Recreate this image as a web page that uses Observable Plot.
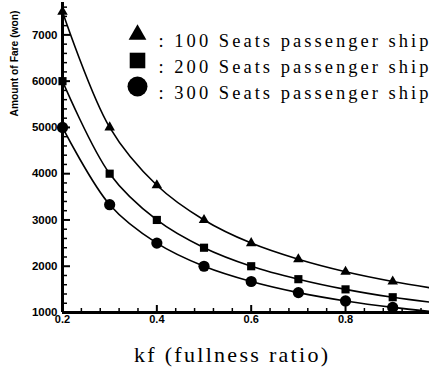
<!DOCTYPE html>
<html>
<head>
<meta charset="utf-8">
<script src="https://cdn.jsdelivr.net/npm/d3@7"></script>
<script src="https://cdn.jsdelivr.net/npm/@observablehq/plot@0.6"></script>
<style>
  html, body { margin: 0; padding: 0; background: #fff; }
  #wrap { position: relative; width: 429px; height: 374px; }
  #clip { width: 429px; height: 328px; overflow: hidden; }
  #cap { position: absolute; left: 0; top: 336px; width: 429px; height: 36px; }
</style>
</head>
<body>
<div id="wrap">
  <div id="clip"></div>
  <svg id="cap" width="429" height="36"></svg>
</div>
<script>
const kf = [0.2, 0.3, 0.4, 0.5, 0.6, 0.7, 0.8, 0.9, 1.0];
const seats100 = [7500, 5000, 3750, 3000, 2500, 2150, 1880, 1670, 1500];
const seats200 = [6000, 4000, 3000, 2400, 2000, 1720, 1500, 1330, 1200];
const seats300 = [5000, 3330, 2500, 2000, 1670, 1430, 1250, 1110, 1000];
const seriesNames = ["100", "200", "300"];
const legendLabels = [": 100 Seats passenger ship", ": 200 Seats passenger ship", ": 300 Seats passenger ship"];
const xMajor = [0.2, 0.4, 0.6, 0.8];
const xMinor = [0.24, 0.28, 0.32, 0.36, 0.44, 0.48, 0.52, 0.56, 0.64, 0.68, 0.72, 0.76, 0.84, 0.88, 0.92, 0.96];
const yMajor = [1000, 2000, 3000, 4000, 5000, 6000, 7000];
const yMinor = [1200, 1400, 1600, 1800, 2200, 2400, 2600, 2800, 3200, 3400, 3600, 3800, 4200, 4400, 4600, 4800, 5200, 5400, 5600, 5800, 6200, 6400, 6600, 6800, 7200, 7400, 7600];
const yTitle = "Amount of Fare (won)";
const xTitle = "kf (fullness ratio)";

const allSeries = [seats100, seats200, seats300];
const rows = [];
allSeries.forEach((vals, i) => vals.forEach((v, j) => rows.push({kf: kf[j], fare: v, series: seriesNames[i]})));
const pts = s => rows.filter(d => d.series === s && d.kf <= 0.9);

const legendRows = seriesNames.map((s, i) => ({series: s, label: legendLabels[i]}));
const serif = "Liberation Serif, Times New Roman, serif";
const sans = "Liberation Sans, Arial, sans-serif";

const chart = Plot.plot({
  width: 429,
  height: 328,
  marginLeft: 62,
  marginRight: 0,
  marginTop: 2,
  marginBottom: 16,
  style: {background: "#fff", color: "#000", overflow: "visible"},
  x: {domain: [0.2, 0.978], axis: null},
  y: {domain: [1000, 7700], axis: null},
  marks: [
    Plot.line(rows, {x: "kf", y: "fare", z: "series", curve: "catmull-rom", stroke: "#000", strokeWidth: 1.6, clip: true}),
    Plot.dot(pts("100"), {x: "kf", y: "fare", symbol: "triangle", r: 3.9, fill: "#000"}),
    Plot.dot(pts("200"), {x: "kf", y: "fare", symbol: "square", r: 4.6, fill: "#000"}),
    Plot.dot(pts("300"), {x: "kf", y: "fare", symbol: "circle", r: 5.6, fill: "#000"}),
    Plot.axisX(xMajor, {tickSize: -7, tickFormat: () => "", label: null, strokeWidth: 2}),
    Plot.axisX(xMinor, {tickSize: -4, tickFormat: () => "", label: null, strokeWidth: 1.5}),
    Plot.axisX(xMajor, {tickSize: 0, tickPadding: 3, label: null, tickFormat: d => d.toFixed(1), fontSize: 11, fontWeight: "bold", fontFamily: sans}),
    Plot.axisY(yMajor, {tickSize: -8, tickFormat: () => "", label: null, strokeWidth: 2}),
    Plot.axisY(yMinor, {tickSize: -5, tickFormat: () => "", label: null, strokeWidth: 1.5}),
    Plot.axisY(yMajor, {tickSize: 0, tickPadding: 5, label: null, tickFormat: d => String(d), fontSize: 11.5, fontWeight: "bold", fontFamily: sans}),
    Plot.ruleX([0.2], {stroke: "#000", strokeWidth: 3}),
    Plot.ruleY([1000], {stroke: "#000", strokeWidth: 3}),
    Plot.text([yTitle], {frameAnchor: "top-left", dx: -52, dy: 61, text: d => d, rotate: -90, textAnchor: "middle", fontSize: 10, fontWeight: "bold", fontFamily: "Liberation Sans Narrow, Liberation Sans, Arial, sans-serif", className: "ytitle"}),
    Plot.dot([legendRows[0]], {frameAnchor: "top-left", dx: 75, dy: 32, symbol: "triangle", r: 6.6, fill: "#000"}),
    Plot.dot([legendRows[1]], {frameAnchor: "top-left", dx: 75, dy: 58, symbol: "square", r: 8.8, fill: "#000"}),
    Plot.dot([legendRows[2]], {frameAnchor: "top-left", dx: 75, dy: 84, symbol: "circle", r: 10, fill: "#000"}),
    Plot.text([legendRows[0]], {frameAnchor: "top-left", dx: 96, dy: 31, text: "label", textAnchor: "start", fontSize: 18.5, fontFamily: serif, className: "leg"}),
    Plot.text([legendRows[1]], {frameAnchor: "top-left", dx: 96, dy: 57, text: "label", textAnchor: "start", fontSize: 18.5, fontFamily: serif, className: "leg"}),
    Plot.text([legendRows[2]], {frameAnchor: "top-left", dx: 96, dy: 83, text: "label", textAnchor: "start", fontSize: 18.5, fontFamily: serif, className: "leg"})
  ]
});
document.getElementById("clip").appendChild(chart);

d3.select(chart).selectAll("g.leg text").attr("textLength", 270).attr("lengthAdjust", "spacing");
d3.select(chart).selectAll("g.ytitle text").attr("textLength", 106).attr("lengthAdjust", "spacingAndGlyphs");

d3.select("#cap").append("text")
  .attr("x", 231).attr("y", 26)
  .attr("text-anchor", "middle")
  .attr("font-family", serif)
  .attr("font-size", 22)
  .attr("textLength", 194).attr("lengthAdjust", "spacing")
  .text(xTitle);
</script>
</body>
</html>
